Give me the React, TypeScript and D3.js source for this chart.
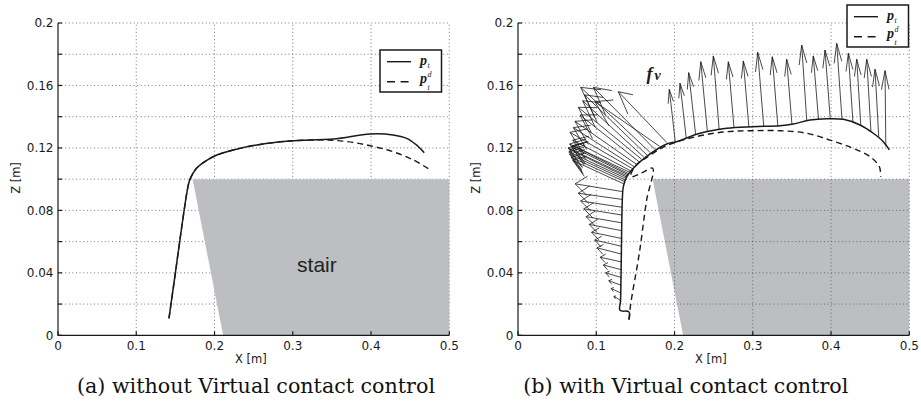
import React from 'react';
import * as d3 from 'd3';

// ---------- ticks ----------
const X_TICKS = [0, 0.1, 0.2, 0.3, 0.4, 0.5];
const X_TICK_LABELS = ['0', '0.1', '0.2', '0.3', '0.4', '0.5'];
const Z_TICKS = [0, 0.02, 0.04, 0.06, 0.08, 0.1, 0.12, 0.14, 0.16, 0.18, 0.2];
const Z_TICK_LABELS = ['0', '', '0.04', '', '0.08', '', '0.12', '', '0.16', '', '0.2'];

// ---------- stair ----------
const STAIR_X = [0.172, 0.5, 0.5, 0.211];
const STAIR_Z = [0.1, 0.1, 0, 0];

// ---------- panel (a): without virtual contact control ----------
const A_PT_X = [0.1418, 0.150, 0.158, 0.166, 0.1687, 0.177, 0.190, 0.203, 0.224, 0.254, 0.296, 0.352, 0.399, 0.428, 0.4455, 0.458, 0.468];
const A_PT_Z = [0.0109, 0.040, 0.069, 0.095, 0.100, 0.107, 0.112, 0.1155, 0.1187, 0.1219, 0.1244, 0.1257, 0.1289, 0.1283, 0.1261, 0.1219, 0.1169];
const A_PTD_X = [0.1418, 0.150, 0.158, 0.166, 0.1687, 0.177, 0.190, 0.203, 0.224, 0.254, 0.296, 0.340, 0.370, 0.399, 0.428, 0.454, 0.476];
const A_PTD_Z = [0.0109, 0.040, 0.069, 0.095, 0.100, 0.107, 0.112, 0.1155, 0.1187, 0.1219, 0.1244, 0.1251, 0.1240, 0.1214, 0.1176, 0.1123, 0.1058];

// ---------- panel (b): with virtual contact control ----------
const B_PT_X = [0.1418, 0.1418, 0.1303, 0.1310, 0.1320, 0.1333, 0.1346, 0.1390, 0.1474, 0.1640, 0.1900, 0.2027, 0.2326, 0.2667, 0.3007, 0.3348, 0.3518, 0.3732, 0.3944, 0.4157, 0.4370, 0.4540, 0.4668, 0.4745];
const B_PT_Z = [0.0100, 0.0150, 0.0160, 0.0220, 0.0500, 0.0867, 0.0952, 0.1016, 0.1070, 0.1144, 0.1225, 0.1240, 0.1294, 0.1326, 0.1336, 0.1342, 0.1353, 0.1379, 0.1387, 0.1383, 0.1347, 0.1294, 0.1240, 0.1187];
const B_PTD_X = [0.1418, 0.1440, 0.1550, 0.1644, 0.1721, 0.1580, 0.1440, 0.1500, 0.1650, 0.1900, 0.2300, 0.2667, 0.3007, 0.3348, 0.3689, 0.3987, 0.4285, 0.4498, 0.4617, 0.4634];
const B_PTD_Z = [0.0100, 0.0200, 0.0525, 0.0867, 0.1070, 0.1040, 0.1015, 0.1085, 0.1140, 0.1215, 0.1275, 0.1304, 0.1310, 0.1310, 0.1294, 0.1250, 0.1197, 0.1144, 0.1080, 0.1016];

// virtual contact force vectors f_v (base on trajectory, tip of arrow)
const FV_BASE_X = [
  0.1318, 0.1319, 0.1320, 0.1321, 0.1322, 0.1323, 0.1324, 0.1325, 0.1326, 0.1327, 0.1328, 0.1330, 0.1331, 0.1333, 0.1340,
  0.1350, 0.1360, 0.1370, 0.1380, 0.1390, 0.1400, 0.1410, 0.1420, 0.1435,
  0.1450, 0.1470, 0.1490, 0.1520, 0.1550, 0.1580, 0.1610, 0.1650, 0.1690, 0.1750, 0.1810, 0.1900,
  0.201, 0.215, 0.227, 0.242, 0.257, 0.276, 0.295, 0.314, 0.332, 0.350, 0.369, 0.384, 0.399, 0.414, 0.428, 0.438, 0.451, 0.461, 0.470,
];
const FV_BASE_Z = [
  0.022, 0.027, 0.032, 0.037, 0.042, 0.047, 0.052, 0.057, 0.062, 0.067, 0.072, 0.077, 0.082, 0.087, 0.092,
  0.0970, 0.0985, 0.0995, 0.1005, 0.1013, 0.1020, 0.1027, 0.1033, 0.1042,
  0.1050, 0.1065, 0.1078, 0.1093, 0.1110, 0.1127, 0.1140, 0.1153, 0.1170, 0.1190, 0.1210, 0.1235,
  0.1238, 0.1262, 0.1285, 0.1305, 0.1318, 0.1330, 0.1335, 0.1338, 0.1341, 0.1352, 0.1373, 0.1384, 0.1387, 0.1384, 0.1365, 0.1345, 0.1305, 0.1265, 0.1210,
];
const FV_TIP_X = [
  0.1225, 0.119, 0.116, 0.112, 0.109, 0.105, 0.101, 0.098, 0.094, 0.091, 0.087, 0.084, 0.080, 0.077, 0.073,
  0.0700, 0.0680, 0.0660, 0.0650, 0.0660, 0.0640, 0.0680, 0.0700, 0.0660,
  0.0700, 0.0664, 0.0707, 0.0728, 0.0792, 0.0770, 0.0826, 0.0850, 0.0801, 0.0963, 0.0984, 0.1282,
  0.1933, 0.2070, 0.2181, 0.2335, 0.2496, 0.2687, 0.2879, 0.3063, 0.3249, 0.3433, 0.3625, 0.3773, 0.3923, 0.4072, 0.4221, 0.4328, 0.4456, 0.4562, 0.4690,
];
const FV_TIP_Z = [
  0.025, 0.030, 0.035, 0.040, 0.045, 0.050, 0.056, 0.061, 0.066, 0.071, 0.076, 0.081, 0.086, 0.091, 0.097,
  0.1120, 0.1140, 0.1160, 0.1175, 0.1190, 0.1200, 0.1210, 0.1215, 0.1225,
  0.1250, 0.1300, 0.1330, 0.1370, 0.1411, 0.1460, 0.1502, 0.1540, 0.1588, 0.1588, 0.1496, 0.1560,
  0.1575, 0.1614, 0.1682, 0.1752, 0.1789, 0.1752, 0.1757, 0.1812, 0.1784, 0.1768, 0.1859, 0.1789, 0.1827, 0.1870, 0.1806, 0.1768, 0.1768, 0.1704, 0.1695,
];

const INK = '#1a1a1a';
const STAIR_FILL = '#bdbec1';
const TOP = 23;
const BOTTOM = 335.3;

type PanelProps = {
  x0: number;
  x1: number;
  gridOverStair: boolean;
  pt: [number[], number[]];
  ptd: [number[], number[]];
  arrows: boolean;
  stairLabel: boolean;
};

function zip(xs: number[], zs: number[]): [number, number][] {
  return xs.map((x, i) => [x, zs[i]]);
}

function Legend({ x, y }: { x: number; y: number }) {
  return (
    <g transform={`translate(${x},${y})`}>
      <rect x={0} y={0} width={61.5} height={42} fill="white" stroke={INK} strokeWidth={1.5} />
      <line x1={7} x2={31} y1={11.7} y2={11.7} stroke={INK} strokeWidth={1.4} />
      <line x1={7} x2={31} y1={31.7} y2={31.7} stroke={INK} strokeWidth={1.4} strokeDasharray="8 5.6" />
      <g fontFamily="'Liberation Serif', serif" fill={INK}>
        <text x={40} y={14.5} fontSize={14} fontWeight="bold" fontStyle="italic">p</text>
        <text x={47.5} y={17.8} fontSize={8} fontStyle="italic">t</text>
        <text x={40} y={33} fontSize={14} fontWeight="bold" fontStyle="italic">p</text>
        <text x={47.5} y={26.5} fontSize={8} fontStyle="italic">d</text>
        <text x={47.5} y={39.5} fontSize={8} fontStyle="italic">t</text>
      </g>
    </g>
  );
}

function Panel({ x0, x1, gridOverStair, pt, ptd, arrows, stairLabel }: PanelProps) {
  const sx = d3.scaleLinear().domain([0, 0.5]).range([x0, x1]);
  const sz = d3.scaleLinear().domain([0, 0.2]).range([BOTTOM, TOP]);
  const line = d3
    .line<[number, number]>()
    .x((d) => sx(d[0]))
    .y((d) => sz(d[1]))
    .curve(d3.curveCatmullRom.alpha(0.5));
  const stairPts = zip(STAIR_X, STAIR_Z).map((d) => `${sx(d[0])},${sz(d[1])}`).join(' ');

  const grid = (
    <g stroke="#555" strokeWidth={0.8} strokeDasharray="1 2.6" fill="none">
      {X_TICKS.filter((t) => t > 0).map((t) => (
        <line key={'gx' + t} x1={sx(t)} x2={sx(t)} y1={sz(0)} y2={sz(0.2)} />
      ))}
      {Z_TICKS.filter((t) => t > 0).map((t) => (
        <line key={'gz' + t} x1={sx(0)} x2={sx(0.5)} y1={sz(t)} y2={sz(t)} />
      ))}
    </g>
  );
  const stair = <polygon points={stairPts} fill={STAIR_FILL} />;

  const arrowPaths: string[] = [];
  if (arrows) {
    const a = 0.25;
    const b = 0.4;
    FV_BASE_X.forEach((bx, i) => {
      const bz = FV_BASE_Z[i];
      const tx = FV_TIP_X[i];
      const tz = FV_TIP_Z[i];
      const u = tx - bx;
      const v = tz - bz;
      const h1x = tx - a * (u + b * v);
      const h1z = tz - a * (v - b * u);
      const h2x = tx - a * (u - b * v);
      const h2z = tz - a * (v + b * u);
      arrowPaths.push(
        `M${sx(bx)},${sz(bz)}L${sx(tx)},${sz(tz)}M${sx(h1x)},${sz(h1z)}L${sx(tx)},${sz(tz)}L${sx(h2x)},${sz(h2z)}`
      );
    });
  }

  const midX = (x0 + x1) / 2;
  return (
    <g>
      {gridOverStair ? stair : grid}
      {gridOverStair ? grid : stair}
      {stairLabel && (
        <text x={sx(0.3055)} y={271.7} fontFamily="'Liberation Sans', Arial, sans-serif" fontSize={21} fill="#222">
          stair
        </text>
      )}
      {arrows && (
        <g stroke={INK} strokeWidth={0.8} fill="none">
          {arrowPaths.map((p, i) => (
            <path key={i} d={p} />
          ))}
        </g>
      )}
      <path d={line(zip(ptd[0], ptd[1])) || ''} fill="none" stroke={INK} strokeWidth={1.4} strokeDasharray="6 4" />
      <path d={line(zip(pt[0], pt[1])) || ''} fill="none" stroke={INK} strokeWidth={1.5} />
      {/* axes */}
      <g stroke={INK} strokeWidth={1.2}>
        <line x1={sx(0)} x2={sx(0)} y1={sz(0) + 0.6} y2={sz(0.2)} />
        <line x1={sx(0)} x2={sx(0.5)} y1={sz(0)} y2={sz(0)} />
        {X_TICKS.map((t) => (
          <line key={'tx' + t} x1={sx(t)} x2={sx(t)} y1={sz(0)} y2={sz(0) - 4} />
        ))}
        {Z_TICKS.map((t) => (
          <line key={'tz' + t} x1={sx(0)} x2={sx(0) + 4} y1={sz(t)} y2={sz(t)} />
        ))}
      </g>
      <g fontFamily="'DejaVu Sans', sans-serif" fontSize={12} fill={INK}>
        {X_TICKS.map((t, i) => (
          <text key={'lx' + t} x={sx(t)} y={349.5} textAnchor="middle">
            {X_TICK_LABELS[i]}
          </text>
        ))}
        {Z_TICKS.map((t, i) =>
          Z_TICK_LABELS[i] ? (
            <text key={'lz' + t} x={sx(0) - 4.5} y={sz(t) + 4.3} textAnchor="end">
              {Z_TICK_LABELS[i]}
            </text>
          ) : null
        )}
      </g>
      <text x={midX - 2.8} y={362.5} textAnchor="middle" fontFamily="'DejaVu Sans', sans-serif" fontSize={11.5} fill={INK}>
        X [m]
      </text>
      <text
        transform={`translate(${x0 - 38.5},178) rotate(-90)`}
        textAnchor="middle"
        fontFamily="'DejaVu Sans', sans-serif"
        fontSize={11.5}
        fill={INK}
      >
        Z [m]
      </text>
    </g>
  );
}

export default function App() {
  return (
    <svg
      width={921}
      height={402}
      viewBox="0 0 921 402"
      style={{ position: 'absolute', left: 0, top: 0, background: 'white' }}
    >
      <rect x={0} y={0} width={921} height={402} fill="white" />
      <Panel x0={58} x1={449.3} gridOverStair={false} pt={[A_PT_X, A_PT_Z]} ptd={[A_PTD_X, A_PTD_Z]} arrows={false} stairLabel />
      <Panel x0={518} x1={909.3} gridOverStair pt={[B_PT_X, B_PT_Z]} ptd={[B_PTD_X, B_PTD_Z]} arrows stairLabel={false} />
      <Legend x={380} y={50} />
      <Legend x={847} y={5} />
      <g fontFamily="'Liberation Serif', serif" fontWeight="bold" fontStyle="italic" fill={INK}>
        <text x={646.5} y={79.5} fontSize={18}>f</text>
        <text x={654.5} y={80} fontSize={14}>v</text>
      </g>
      <g fontFamily="'DejaVu Serif', serif" fontSize={21} fill="#111">
        <text x={77} y={392.5} textLength={358} lengthAdjust="spacingAndGlyphs">
          (a) without Virtual contact control
        </text>
        <text x={523.3} y={392.5} textLength={325} lengthAdjust="spacingAndGlyphs">
          (b) with Virtual contact control
        </text>
      </g>
    </svg>
  );
}
